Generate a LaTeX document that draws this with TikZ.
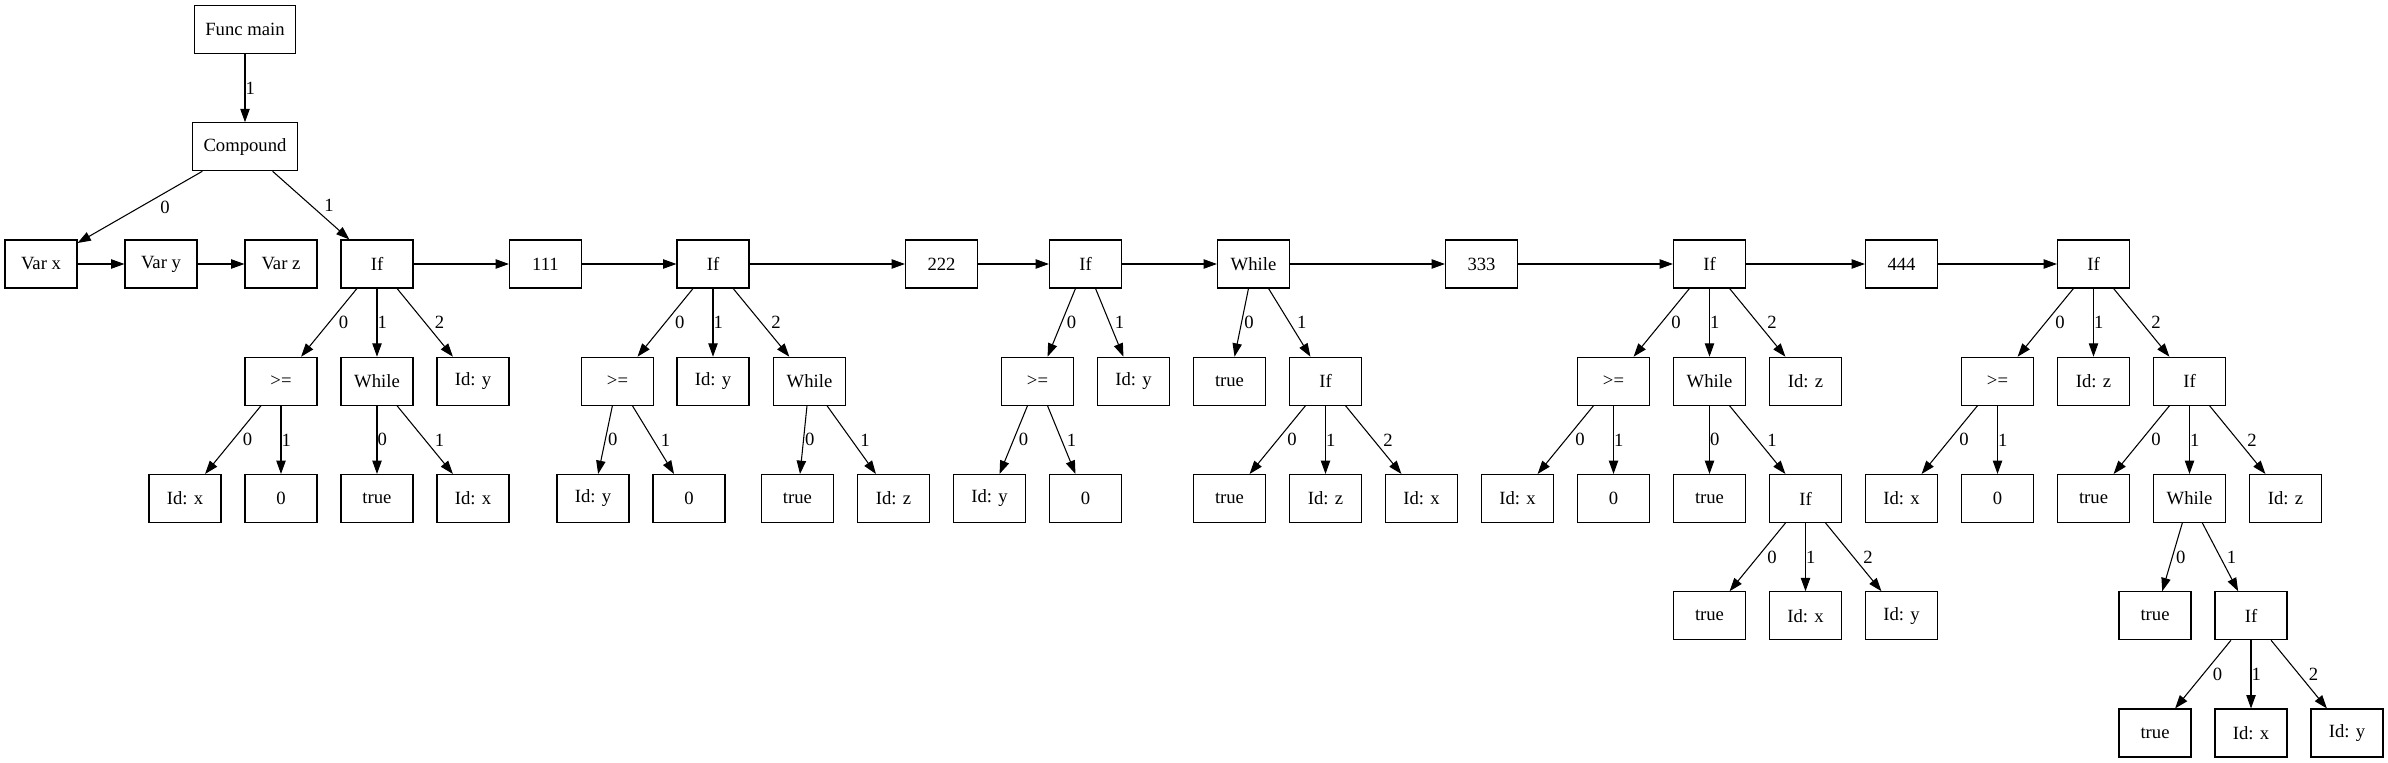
\documentclass[tikz,border=0pt]{standalone}
\usepackage{fontspec}
\setmainfont{Liberation Serif}
\usetikzlibrary{arrows.meta,calc}
\tikzset{
  box/.style={draw, rectangle, line width=0.8pt, minimum width=54pt, minimum height=36pt,
    inner xsep=7.92pt, inner ysep=0pt, font=\fontsize{14pt}{16pt}\selectfont},
  edge/.style={line width=0.8pt, -{Triangle[length=10pt,width=7pt]}},
  lbl/.style={midway, anchor=west, inner sep=0pt, font=\fontsize{14pt}{16pt}\selectfont}
}
\newcommand{\edgelab}[3]{\draw[edge] let \p1=(#1), \p2=(#2) in (#1) -- node[lbl, xshift={abs(\x2-\x1)*0.098}] {#3} (#2);}
\begin{document}
\begin{tikzpicture}[x=0.75pt, y=-0.75pt]
\useasboundingbox (0,0) rectangle (2388,763);
\def\ra{29.5}\def\rb{146.75}\def\rc{264}\def\rd{381.25}\def\re{498.5}\def\rf{615.75}\def\rg{733}
% rows 0-1
\node[box] (fm) at (245,\ra) {Func main};
\node[box] (comp) at (245,\rb) {Compound};
% row 2
\node[box] (vx) at (41,\rc) {Var x};
\node[box] (vy) at (161,\rc) {Var y};
\node[box] (vz) at (281,\rc) {Var z};
\node[box] (ifA) at (377,\rc) {If};
\node[box] (n111) at (545.5,\rc) {111};
\node[box] (ifB) at (713,\rc) {If};
\node[box] (n222) at (941.5,\rc) {222};
\node[box] (ifC) at (1085.5,\rc) {If};
\node[box] (whD) at (1253.5,\rc) {While};
\node[box] (n333) at (1481.5,\rc) {333};
\node[box] (ifE) at (1709.5,\rc) {If};
\node[box] (n444) at (1901.5,\rc) {444};
\node[box] (ifF) at (2093.5,\rc) {If};
% row 3
\node[box] (geA) at (281,\rd) {>=};
\node[box] (whA) at (377,\rd) {While};
\node[box] (idyA) at (473,\rd) {Id: y};
\node[box] (geB) at (617.5,\rd) {>=};
\node[box] (idyB) at (713,\rd) {Id: y};
\node[box] (whB) at (809.5,\rd) {While};
\node[box] (geC) at (1037.5,\rd) {>=};
\node[box] (idyC) at (1133.5,\rd) {Id: y};
\node[box] (trD) at (1229.5,\rd) {true};
\node[box] (ifD) at (1325.5,\rd) {If};
\node[box] (geE) at (1613.5,\rd) {>=};
\node[box] (whE) at (1709.5,\rd) {While};
\node[box] (idzE) at (1805.5,\rd) {Id: z};
\node[box] (geF) at (1997.5,\rd) {>=};
\node[box] (idzF) at (2093.5,\rd) {Id: z};
\node[box] (ifF2) at (2189.5,\rd) {If};
% row 4
\node[box] (idxA) at (185,\re) {Id: x};
\node[box] (zA) at (281,\re) {0};
\node[box] (trA) at (377,\re) {true};
\node[box] (idxA2) at (473,\re) {Id: x};
\node[box] (idyB2) at (593,\re) {Id: y};
\node[box] (zB) at (689,\re) {0};
\node[box] (trB) at (797.5,\re) {true};
\node[box] (idzB) at (893.5,\re) {Id: z};
\node[box] (idyC2) at (989.5,\re) {Id: y};
\node[box] (zC) at (1085.5,\re) {0};
\node[box] (trD2) at (1229.5,\re) {true};
\node[box] (idzD) at (1325.5,\re) {Id: z};
\node[box] (idxD) at (1421.5,\re) {Id: x};
\node[box] (idxE) at (1517.5,\re) {Id: x};
\node[box] (zE) at (1613.5,\re) {0};
\node[box] (trE) at (1709.5,\re) {true};
\node[box] (ifE2) at (1805.5,\re) {If};
\node[box] (idxF) at (1901.5,\re) {Id: x};
\node[box] (zF) at (1997.5,\re) {0};
\node[box] (trF) at (2093.5,\re) {true};
\node[box] (whF) at (2189.5,\re) {While};
\node[box] (idzF2) at (2285.5,\re) {Id: z};
% row 5
\node[box] (trE2) at (1709.5,\rf) {true};
\node[box] (idxE2) at (1805.5,\rf) {Id: x};
\node[box] (idyE2) at (1901.5,\rf) {Id: y};
\node[box] (trF2) at (2155,\rf) {true};
\node[box] (ifF3) at (2251,\rf) {If};
% row 6
\node[box] (trF3) at (2155,\rg) {true};
\node[box] (idxF3) at (2251,\rg) {Id: x};
\node[box] (idyF3) at (2347,\rg) {Id: y};
% chains
\draw[edge] (vx) -- (vy);
\draw[edge] (vy) -- (vz);
\draw[edge] (ifA) -- (n111);
\draw[edge] (n111) -- (ifB);
\draw[edge] (ifB) -- (n222);
\draw[edge] (n222) -- (ifC);
\draw[edge] (ifC) -- (whD);
\draw[edge] (whD) -- (n333);
\draw[edge] (n333) -- (ifE);
\draw[edge] (ifE) -- (n444);
\draw[edge] (n444) -- (ifF);
% labelled edges
\edgelab{fm}{comp}{1}
\edgelab{comp}{vx}{0}
\edgelab{comp}{ifA}{1}
\edgelab{ifA}{geA}{0}
\edgelab{ifA}{whA}{1}
\edgelab{ifA}{idyA}{2}
\edgelab{geA}{idxA}{0}
\edgelab{geA}{zA}{1}
\edgelab{whA}{trA}{0}
\edgelab{whA}{idxA2}{1}
\edgelab{ifB}{geB}{0}
\edgelab{ifB}{idyB}{1}
\edgelab{ifB}{whB}{2}
\edgelab{geB}{idyB2}{0}
\edgelab{geB}{zB}{1}
\edgelab{whB}{trB}{0}
\edgelab{whB}{idzB}{1}
\edgelab{ifC}{geC}{0}
\edgelab{ifC}{idyC}{1}
\edgelab{geC}{idyC2}{0}
\edgelab{geC}{zC}{1}
\edgelab{whD}{trD}{0}
\edgelab{whD}{ifD}{1}
\edgelab{ifD}{trD2}{0}
\edgelab{ifD}{idzD}{1}
\edgelab{ifD}{idxD}{2}
\edgelab{ifE}{geE}{0}
\edgelab{ifE}{whE}{1}
\edgelab{ifE}{idzE}{2}
\edgelab{geE}{idxE}{0}
\edgelab{geE}{zE}{1}
\edgelab{whE}{trE}{0}
\edgelab{whE}{ifE2}{1}
\edgelab{ifE2}{trE2}{0}
\edgelab{ifE2}{idxE2}{1}
\edgelab{ifE2}{idyE2}{2}
\edgelab{ifF}{geF}{0}
\edgelab{ifF}{idzF}{1}
\edgelab{ifF}{ifF2}{2}
\edgelab{geF}{idxF}{0}
\edgelab{geF}{zF}{1}
\edgelab{ifF2}{trF}{0}
\edgelab{ifF2}{whF}{1}
\edgelab{ifF2}{idzF2}{2}
\edgelab{whF}{trF2}{0}
\edgelab{whF}{ifF3}{1}
\edgelab{ifF3}{trF3}{0}
\edgelab{ifF3}{idxF3}{1}
\edgelab{ifF3}{idyF3}{2}
\end{tikzpicture}
\end{document}
